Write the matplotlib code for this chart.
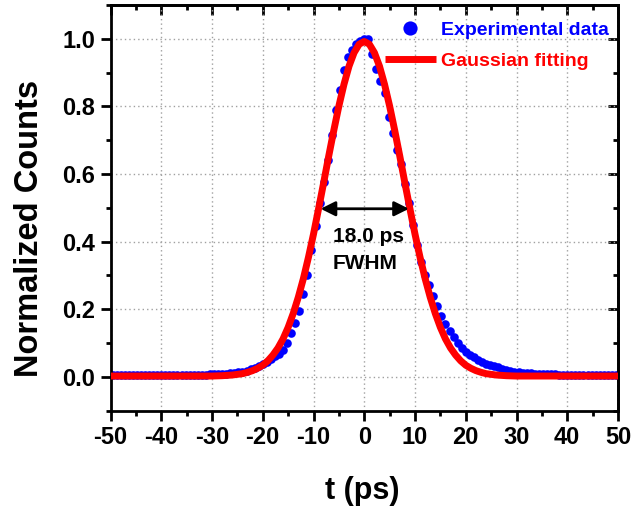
import matplotlib
matplotlib.use('Agg')
import matplotlib.pyplot as plt
from matplotlib.ticker import MultipleLocator, FormatStrFormatter

plt.rcParams['font.family'] = ['Liberation Sans', 'DejaVu Sans']
plt.rcParams['font.weight'] = 'bold'
plt.rcParams['axes.unicode_minus'] = False

# ---------------- data ----------------
t_exp = [-49.6, -48.8, -48.0, -47.2, -46.4, -45.6, -44.8, -44.0, -43.2, -42.4,
         -41.6, -40.8, -40.0, -39.2, -38.4, -37.6, -36.8, -36.0, -35.2, -34.4,
         -33.6, -32.8, -32.0, -31.2, -30.4, -29.6, -28.8, -28.0, -27.2, -26.4,
         -25.6, -24.8, -24.0, -23.2, -22.4, -21.6, -20.8, -20.0, -19.2, -18.4,
         -17.6, -16.8, -16.0, -15.2, -14.4, -13.6, -12.8, -12.0, -11.2, -10.4,
         -9.6, -8.8, -8.0, -7.2, -6.4, -5.6, -4.8, -4.0, -3.2, -2.4,
         -1.6, -0.8, 0.0,
         0.8, 1.6, 2.4, 3.2, 4.0, 4.8, 5.6, 6.4, 7.2, 8.0,
         8.8, 9.6, 10.4, 11.2, 12.0, 12.8, 13.6, 14.4, 15.2, 16.0,
         16.8, 17.6, 18.4, 19.2, 20.0, 20.8, 21.6, 22.4, 23.2, 24.0,
         24.8, 25.6, 26.4, 27.2, 28.0, 28.8, 29.6, 30.4, 31.2, 32.0,
         32.8, 33.6, 34.4, 35.2, 36.0, 36.8, 37.6, 38.4, 39.2, 40.0,
         40.8, 41.6, 42.4, 43.2, 44.0, 44.8, 45.6, 46.4, 47.2, 48.0,
         48.8, 49.6]

counts_exp = [0.006, 0.005, 0.006, 0.005, 0.006, 0.005, 0.005, 0.006, 0.005, 0.005,
              0.004, 0.005, 0.005, 0.004, 0.005, 0.004, 0.005, 0.005, 0.005, 0.006,
              0.005, 0.006, 0.006, 0.006, 0.007, 0.007, 0.007, 0.008, 0.009, 0.010,
              0.011, 0.013, 0.015, 0.018, 0.022, 0.027, 0.032, 0.038, 0.045, 0.052,
              0.060, 0.068, 0.080, 0.100, 0.128, 0.158, 0.195, 0.245, 0.300, 0.375,
              0.445, 0.515, 0.575, 0.640, 0.715, 0.790, 0.848, 0.908, 0.945, 0.966,
              0.985, 0.993, 1.000,
              0.998, 0.955, 0.910, 0.875, 0.840, 0.770, 0.720, 0.670, 0.630, 0.570,
              0.515, 0.450, 0.390, 0.340, 0.300, 0.270, 0.240, 0.210, 0.180, 0.155,
              0.135, 0.117, 0.100, 0.085, 0.074, 0.064, 0.057, 0.050, 0.044, 0.039,
              0.035, 0.031, 0.028, 0.024, 0.020, 0.017, 0.015, 0.013, 0.012, 0.011,
              0.010, 0.009, 0.008, 0.008, 0.007, 0.007, 0.007, 0.006, 0.006, 0.006,
              0.006, 0.005, 0.006, 0.005, 0.005, 0.006, 0.005, 0.005, 0.005, 0.006,
              0.005, 0.005]

t_fit = [-50, -40, -30, -28, -27, -26, -25, -24, -23, -22, -21, -20, -19, -18,
         -17, -16, -15, -14, -13, -12, -11, -10, -9, -8, -7, -6, -5, -4, -3, -2,
         -1, 0, 1, 2, 3, 4, 5, 6, 7, 8, 9, 10, 11, 12, 13, 14, 15, 16, 17, 18,
         19, 20, 21, 22, 23, 24, 25, 26, 27, 28, 30, 40, 50]

counts_fit = [0.002, 0.002, 0.002, 0.003, 0.004, 0.005, 0.007, 0.009, 0.013, 0.018,
              0.025, 0.034, 0.047, 0.064, 0.085, 0.112, 0.146, 0.187, 0.235, 0.290,
              0.353, 0.422, 0.497, 0.574, 0.653, 0.729, 0.801, 0.865, 0.919, 0.959,
              0.984, 0.992, 0.984, 0.959, 0.919, 0.865, 0.801, 0.729, 0.653, 0.574,
              0.497, 0.422, 0.353, 0.290, 0.235, 0.187, 0.146, 0.112, 0.085, 0.064,
              0.047, 0.034, 0.025, 0.018, 0.013, 0.009, 0.007, 0.005, 0.004, 0.003,
              0.002, 0.002, 0.002]

fwhm_left, fwhm_right, fwhm_level = -8.6, 8.8, 0.497
label_exp = 'Experimental data'
label_fit = 'Gaussian fitting'

# ---------------- figure ----------------
W, H = 635, 509
fig = plt.figure(figsize=(W / 100, H / 100), dpi=100)
L, R, T, B = 110.5, 618.0, 5.0, 410.5
ax = fig.add_axes([L / W, (H - B) / H, (R - L) / W, (B - T) / H])

ax.plot(t_exp, counts_exp, 'o', color='#0000FF', ms=6.2, mec='none',
        label=label_exp, zorder=2)
ax.plot(t_fit, counts_fit, '-', color='#FF0000', lw=5, label=label_fit,
        zorder=3, solid_capstyle='butt')

ax.set_xlim(-50, 50)
ax.set_ylim(-0.1, 1.1)
ax.xaxis.set_major_locator(MultipleLocator(10))
ax.xaxis.set_minor_locator(MultipleLocator(5))
ax.yaxis.set_major_locator(MultipleLocator(0.2))
ax.yaxis.set_minor_locator(MultipleLocator(0.1))
ax.xaxis.set_major_formatter(FormatStrFormatter('%d'))
ax.yaxis.set_major_formatter(FormatStrFormatter('%.1f'))

ax.set_axisbelow(True)
ax.grid(which='major', linestyle=(0, (1, 2.2)), color='#a0a0a0', lw=1.0)

for sp in ax.spines.values():
    sp.set_linewidth(2)

ax.tick_params(which='major', direction='out', length=7, width=2,
               labelsize=17, pad=4)
ax.tick_params(which='minor', direction='out', length=3.5, width=2)

# inward mirrored ticks on top and right
secx = ax.secondary_xaxis('top')
secx.xaxis.set_major_locator(MultipleLocator(10))
secx.xaxis.set_minor_locator(MultipleLocator(5))
secx.tick_params(which='major', direction='in', length=7, width=2, labeltop=False)
secx.tick_params(which='minor', direction='in', length=3.5, width=2)
secx.spines['top'].set_linewidth(2)
secy = ax.secondary_yaxis('right')
secy.yaxis.set_major_locator(MultipleLocator(0.2))
secy.yaxis.set_minor_locator(MultipleLocator(0.1))
secy.tick_params(which='major', direction='in', length=7, width=2, labelright=False)
secy.tick_params(which='minor', direction='in', length=3.5, width=2)
secy.spines['right'].set_linewidth(2)

ax.set_xlabel('t (ps)', fontsize=22, fontweight='bold')
ax.set_ylabel('Normalized Counts', fontsize=23.5, fontweight='bold')
ax.xaxis.set_label_coords((362 - L) / (R - L), (B - 476) / (B - T))
ax.yaxis.set_label_coords((45 - L) / (R - L), (B - 228) / (B - T))

# FWHM annotation
ax.annotate('', xy=(fwhm_left, fwhm_level), xytext=(fwhm_right, fwhm_level),
            arrowprops=dict(arrowstyle='<|-|>', color='black', lw=2,
                            mutation_scale=22, shrinkA=0, shrinkB=0), zorder=4)
ax.text(-6.2, 0.415, '18.0 ps', fontsize=15, fontweight='bold', ha='left',
        va='center', zorder=4)
ax.text(-6.2, 0.335, 'FWHM', fontsize=15, fontweight='bold', ha='left',
        va='center', zorder=4)

leg = ax.legend(loc='upper left', bbox_to_anchor=(0.541, 0.960), frameon=False,
                prop={'size': 14, 'weight': 'bold'}, handlelength=2.6,
                handletextpad=0.26, labelspacing=0.68, borderpad=0,
                borderaxespad=0, markerscale=1.65, numpoints=1,
                labelcolor='linecolor')

fig.savefig('out.png', dpi=100)
